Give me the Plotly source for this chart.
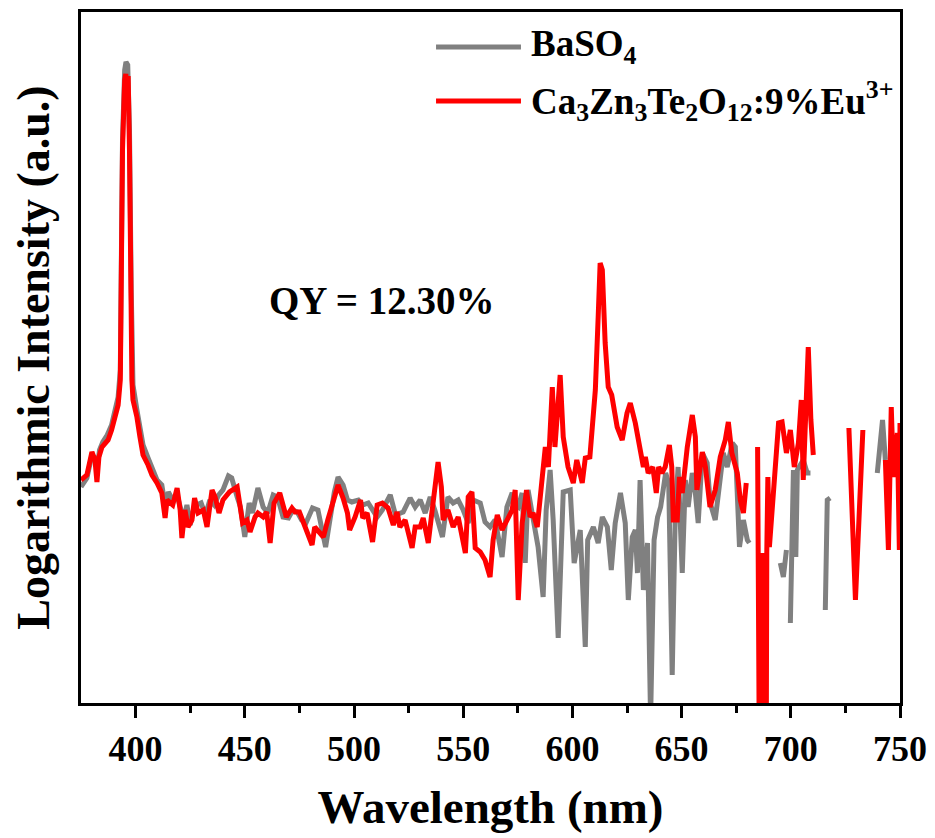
import plotly.graph_objects as go

# ---------------- data (wavelength in nm, log intensity in a.u.) ----------------
red_wl = [375.0, 377.7, 380.0, 381.4, 382.3, 383.2, 384.6, 386.0, 387.4, 389.0, 390.6, 392.0, 393.0,
          394.0, 395.0, 395.5, 396.0, 396.6, 397.2, 397.8, 398.3, 398.8, 400.6, 402.0, 403.4, 405.7,
          407.5, 409.8, 412.0, 413.5, 414.4, 417.0, 419.0, 420.4, 421.2, 422.6, 424.0, 425.8, 427.0,
          428.6, 431.0, 432.7, 435.0, 436.4, 438.2, 440.0, 443.0, 446.5, 448.0, 449.0, 451.0, 452.4,
          454.7, 456.0, 458.4, 460.0, 461.6, 463.4, 466.0, 467.5, 469.0, 471.6, 473.0, 475.0, 477.5,
          479.0, 480.8, 482.0, 484.5, 486.0, 488.0, 490.4, 492.7, 495.0, 497.0, 498.0, 500.5, 503.0,
          504.0, 506.0, 508.5, 510.6, 513.0, 515.6, 518.0, 519.7, 521.0, 523.4, 525.0, 526.6, 528.0,
          530.3, 531.7, 534.0, 535.8, 537.0, 538.5, 540.0, 540.8, 543.0, 545.4, 547.7, 551.0, 552.3,
          554.0, 555.5, 557.8, 560.0, 562.3, 563.7, 565.6, 567.8, 570.0, 572.4, 573.8, 575.2, 577.0,
          579.0, 580.6, 582.0, 583.9, 585.0, 587.6, 589.0, 590.8, 592.0, 594.4, 595.8, 598.0, 600.4,
          602.0, 604.5, 605.9, 608.0, 610.5, 611.8, 612.7, 613.7, 615.0, 616.4, 618.0, 620.5, 622.8,
          625.0, 626.5, 628.8, 631.0, 632.5, 633.4, 634.7, 636.8, 638.4, 639.5, 641.0, 642.5, 644.4,
          645.5, 646.2, 648.0, 649.0, 650.3, 652.6, 654.9, 656.3, 657.0, 659.5, 660.9, 662.2, 663.0,
          665.4, 667.7, 670.0, 671.4, 673.0, 675.5, 676.9, 678.3, 679.6, 682.0,
          684.8, 685.1, 685.4, 685.7, 686.0, 686.3, 686.6, 686.9, 687.2, 687.5, 687.8, 688.1, 688.4,
          688.7, 689.0, 689.5, 690.2, 692.0,
          694.4, 696.0, 698.0, 699.8, 701.6, 703.5, 704.8, 705.7, 707.0, 708.0, 709.2, 710.3, 718.0,
          726.6, 729.6, 733.0, 738.0,
          743.3, 744.7, 746.0, 747.0, 748.8, 749.7, 750.0]
red_val = [2.23, 2.28, 2.51, 2.43, 2.21, 2.46, 2.56, 2.60, 2.63, 2.73, 2.86, 2.98, 3.23,
           5.53, 6.23, 6.29, 6.18, 6.27, 5.53, 4.03, 3.23, 3.03, 2.86, 2.66, 2.48, 2.38,
           2.28, 2.20, 2.10, 1.85, 2.03, 1.98, 2.15, 1.93, 1.65, 1.93, 1.76, 1.83, 2.05,
           1.90, 1.93, 1.76, 2.13, 2.06, 1.90, 2.03, 2.11, 2.16, 1.96, 1.80, 1.83, 1.71,
           1.86, 1.90, 1.86, 1.91, 1.60, 2.00, 2.10, 2.00, 1.86, 1.95, 1.91, 1.91, 1.76,
           1.68, 1.58, 1.76, 1.70, 1.66, 1.83, 2.00, 2.18, 2.05, 1.90, 1.73, 1.86, 2.03,
           1.85, 1.90, 1.61, 1.98, 2.00, 1.95, 1.78, 1.91, 1.76, 1.83, 1.70, 1.55, 1.76,
           1.76, 1.85, 1.60, 1.93, 2.13, 2.41, 2.16, 1.83, 1.93, 1.76, 1.86, 1.50, 2.06,
           2.11, 1.55, 1.51, 1.43, 1.26, 1.63, 1.88, 1.73, 1.83, 1.93, 2.13, 1.03, 1.80,
           2.13, 1.86, 1.90, 1.76, 2.03, 2.56, 2.36, 3.16, 2.56, 3.28, 2.66, 2.36, 2.20,
           2.43, 2.20, 2.45, 2.46, 3.13, 3.86, 4.40, 4.33, 3.60, 3.16, 3.08, 2.76, 2.63,
           2.90, 3.00, 2.80, 2.56, 2.36, 2.46, 2.30, 2.36, 2.10, 2.36, 2.30, 2.36, 2.58,
           2.36, 1.83, 1.83, 2.26, 2.10, 2.56, 2.88, 2.66, 2.13, 2.51, 2.36, 2.03, 1.96,
           2.13, 2.46, 2.63, 2.81, 2.50, 2.30, 2.03, 1.90, 2.20, None,
           2.56, -0.97, 1.50, -0.97, 1.50, -0.97, 1.50, -0.97, 1.50, -0.97, 1.50, -0.97, 1.50,
           -0.97, 1.50, 2.26, 1.56, 2.03,
           2.80, 2.81, 2.50, 2.73, 2.36, 2.60, 3.03, 2.23, 3.00, 3.56, 2.83, 2.48, None,
           2.75, 1.03, 2.73, None,
           2.43, 1.53, 2.96, 2.26, 2.70, 1.53, 2.80]

gray_wl = [375.0, 377.7, 380.0, 381.4, 382.3, 383.5, 385.0, 387.0, 389.0, 390.6, 392.0, 393.0,
           394.0, 395.0, 395.6, 396.4, 397.2, 398.0, 398.8, 400.6, 402.0, 403.4, 405.7, 407.5,
           409.8, 412.0, 413.5, 415.0, 417.0, 419.0, 420.5, 422.0, 423.5, 425.0, 426.5, 428.0,
           430.0, 432.0, 434.0, 436.0, 438.0, 440.0, 442.5, 444.0, 446.5, 448.0, 450.0, 452.0,
           453.5, 456.0, 458.4, 460.5, 463.0, 465.0, 467.5, 470.0, 472.0, 474.0, 476.0, 478.0,
           481.0, 483.5, 487.0, 489.0, 491.0, 492.7, 495.0, 497.0, 499.0, 502.0, 504.0, 506.5,
           509.0, 510.6, 513.0, 516.6, 519.0, 522.5, 525.7, 528.0, 530.3, 532.6, 534.9, 537.0,
           540.5, 543.0, 545.4, 547.7, 550.0, 552.3, 554.6, 557.8, 560.0, 562.3, 564.6, 567.8,
           570.0, 572.4, 574.0, 575.2, 577.0, 578.4, 579.7, 582.0, 584.3, 586.6, 588.0, 589.8,
           591.2, 593.5, 595.8, 599.0, 600.8, 603.6, 605.9, 607.0, 609.6, 611.8, 613.7, 616.0,
           617.8, 619.6, 622.0, 624.2, 625.6, 627.4, 628.8, 629.8, 631.0, 632.5, 634.4, 635.8,
           637.4, 639.0, 640.4, 642.7, 644.1, 645.7, 647.1, 648.4, 650.3, 651.7, 653.0, 654.9,
           656.3, 657.6, 659.5, 661.7, 663.1, 665.4, 666.8, 669.1, 670.9, 673.2, 674.6, 676.5,
           678.3, 680.1, 681.0, 688.0,
           695.2, 696.6, 698.0, 699.0,
           699.8, 701.2, 702.3, 703.0, 705.7, 707.5, 709.0, 712.0,
           715.8, 716.7, 718.0, 728.0,
           739.6, 742.0, 743.3]
gray_val = [2.16, 2.25, 2.48, 2.45, 2.33, 2.53, 2.61, 2.68, 2.78, 2.93, 3.06, 3.33,
            5.63, 6.33, 6.41, 6.38, 5.73, 4.13, 3.18, 2.93, 2.75, 2.58, 2.45, 2.36,
            2.23, 2.18, 1.98, 2.11, 2.03, 2.08, 1.96, 1.83, 1.98, 1.78, 1.93, 1.98,
            2.00, 1.88, 2.03, 1.98, 2.08, 2.13, 2.27, 2.25, 2.06, 1.96, 1.66, 2.00,
            1.90, 2.15, 1.96, 1.90, 2.08, 2.06, 1.86, 1.85, 1.93, 1.91, 1.83, 1.80,
            1.95, 1.93, 1.56, 1.86, 2.11, 2.26, 2.18, 2.03, 2.01, 2.03, 1.98, 2.00,
            1.91, 1.86, 1.93, 2.08, 1.88, 1.91, 2.05, 1.96, 2.03, 1.90, 2.06, 1.93,
            1.66, 2.06, 2.00, 2.03, 1.93, 1.80, 2.03, 2.00, 1.81, 1.76, 1.83, 1.46,
            1.96, 2.10, 1.98, 1.96, 2.10, 1.40, 2.13, 1.86, 1.56, 1.06, 1.93, 2.33,
            1.83, 0.65, 2.11, 2.13, 1.40, 1.73, 0.56, 1.63, 1.76, 1.60, 1.86, 1.76,
            1.33, 1.80, 2.10, 1.80, 1.03, 1.66, 1.73, 1.30, 2.23, 1.13, 1.60, -0.17,
            1.63, 1.86, 1.96, 2.30, 2.20, 0.28, 1.90, 2.36, 1.30, 2.23, 1.96, 2.30,
            2.10, 1.80, 2.50, 2.40, 2.00, 1.83, 2.13, 2.50, 2.36, 2.60, 2.56, 1.56,
            1.83, 1.63, 1.60, None,
            1.40, 1.26, 1.53, None,
            0.80, 2.33, 1.46, 2.33, 2.43, 2.30, 2.30, None,
            0.93, 2.03, 2.05, None,
            2.30, 2.83, 2.43]

x_ticks = [400, 450, 500, 550, 600, 650, 700, 750]
x_minor_ticks = [425, 475, 525, 575, 625, 675, 725]

gray_name = "BaSO<sub>4</sub>"
red_name = "Ca<sub>3</sub>Zn<sub>3</sub>Te<sub>2</sub>O<sub>12</sub>:9%Eu<sup>3+</sup>"
qy_text = "QY = 12.30%"

GRAY = "#808080"
RED = "#FF0000"
FONT = "Liberation Serif, Times New Roman, serif"

fig = go.Figure()
fig.add_trace(go.Scatter(x=gray_wl, y=gray_val, mode="lines", name=gray_name,
                         line=dict(color=GRAY, width=5), connectgaps=False, showlegend=False))
fig.add_trace(go.Scatter(x=red_wl, y=red_val, mode="lines", name=red_name,
                         line=dict(color=RED, width=5), connectgaps=False, showlegend=False))

# hand-drawn legend (long line samples as in the original)
legend_rows = [(gray_name, GRAY, 0.9494), (red_name, RED, 0.8712)]
for name, color, yy in legend_rows:
    fig.add_shape(type="line", xref="paper", yref="paper", x0=0.4335, x1=0.5372, y0=yy, y1=yy,
                  line=dict(color=color, width=5))
    fig.add_annotation(xref="paper", yref="paper", x=0.547, y=yy, text=name, showarrow=False,
                       xanchor="left", yanchor="middle",
                       font=dict(family=FONT, size=37, color="black", weight="bold"))

fig.add_annotation(x=513, y=4.03, xref="x", yref="y", text=qy_text, showarrow=False,
                   font=dict(family=FONT, size=39, color="black", weight="bold"))

fig.update_layout(
    width=935, height=838,
    margin=dict(l=81, r=35, t=12, b=135),
    paper_bgcolor="white", plot_bgcolor="white",
    font=dict(family=FONT, color="black"),
    xaxis=dict(range=[375, 750], tickmode="array", tickvals=x_ticks, automargin=False,
               ticks="outside", ticklen=12, tickwidth=3, tickcolor="black",
               minor=dict(tickmode="array", tickvals=x_minor_ticks, ticks="outside",
                          ticklen=7, tickwidth=3, tickcolor="black"),
               showline=True, linewidth=3, linecolor="black", mirror=True,
               showgrid=False, zeroline=False,
               tickfont=dict(family=FONT, size=36, color="black", weight="bold"),
               title=dict(text="Wavelength (nm)", standoff=22,
                          font=dict(family=FONT, size=47, color="black", weight="bold"))),
    yaxis=dict(range=[0, 6.91], showticklabels=False, ticks="", automargin=False,
               showline=True, linewidth=3, linecolor="black", mirror=True,
               showgrid=False, zeroline=False,
               title=dict(text="Logarithmic Intensity (a.u.)", standoff=14,
                          font=dict(family=FONT, size=46, color="black", weight="bold"))),
)

fig.write_html("out.html", config={"displayModeBar": False},
               post_script="document.body.style.margin='0px';document.body.style.padding='0px';")
